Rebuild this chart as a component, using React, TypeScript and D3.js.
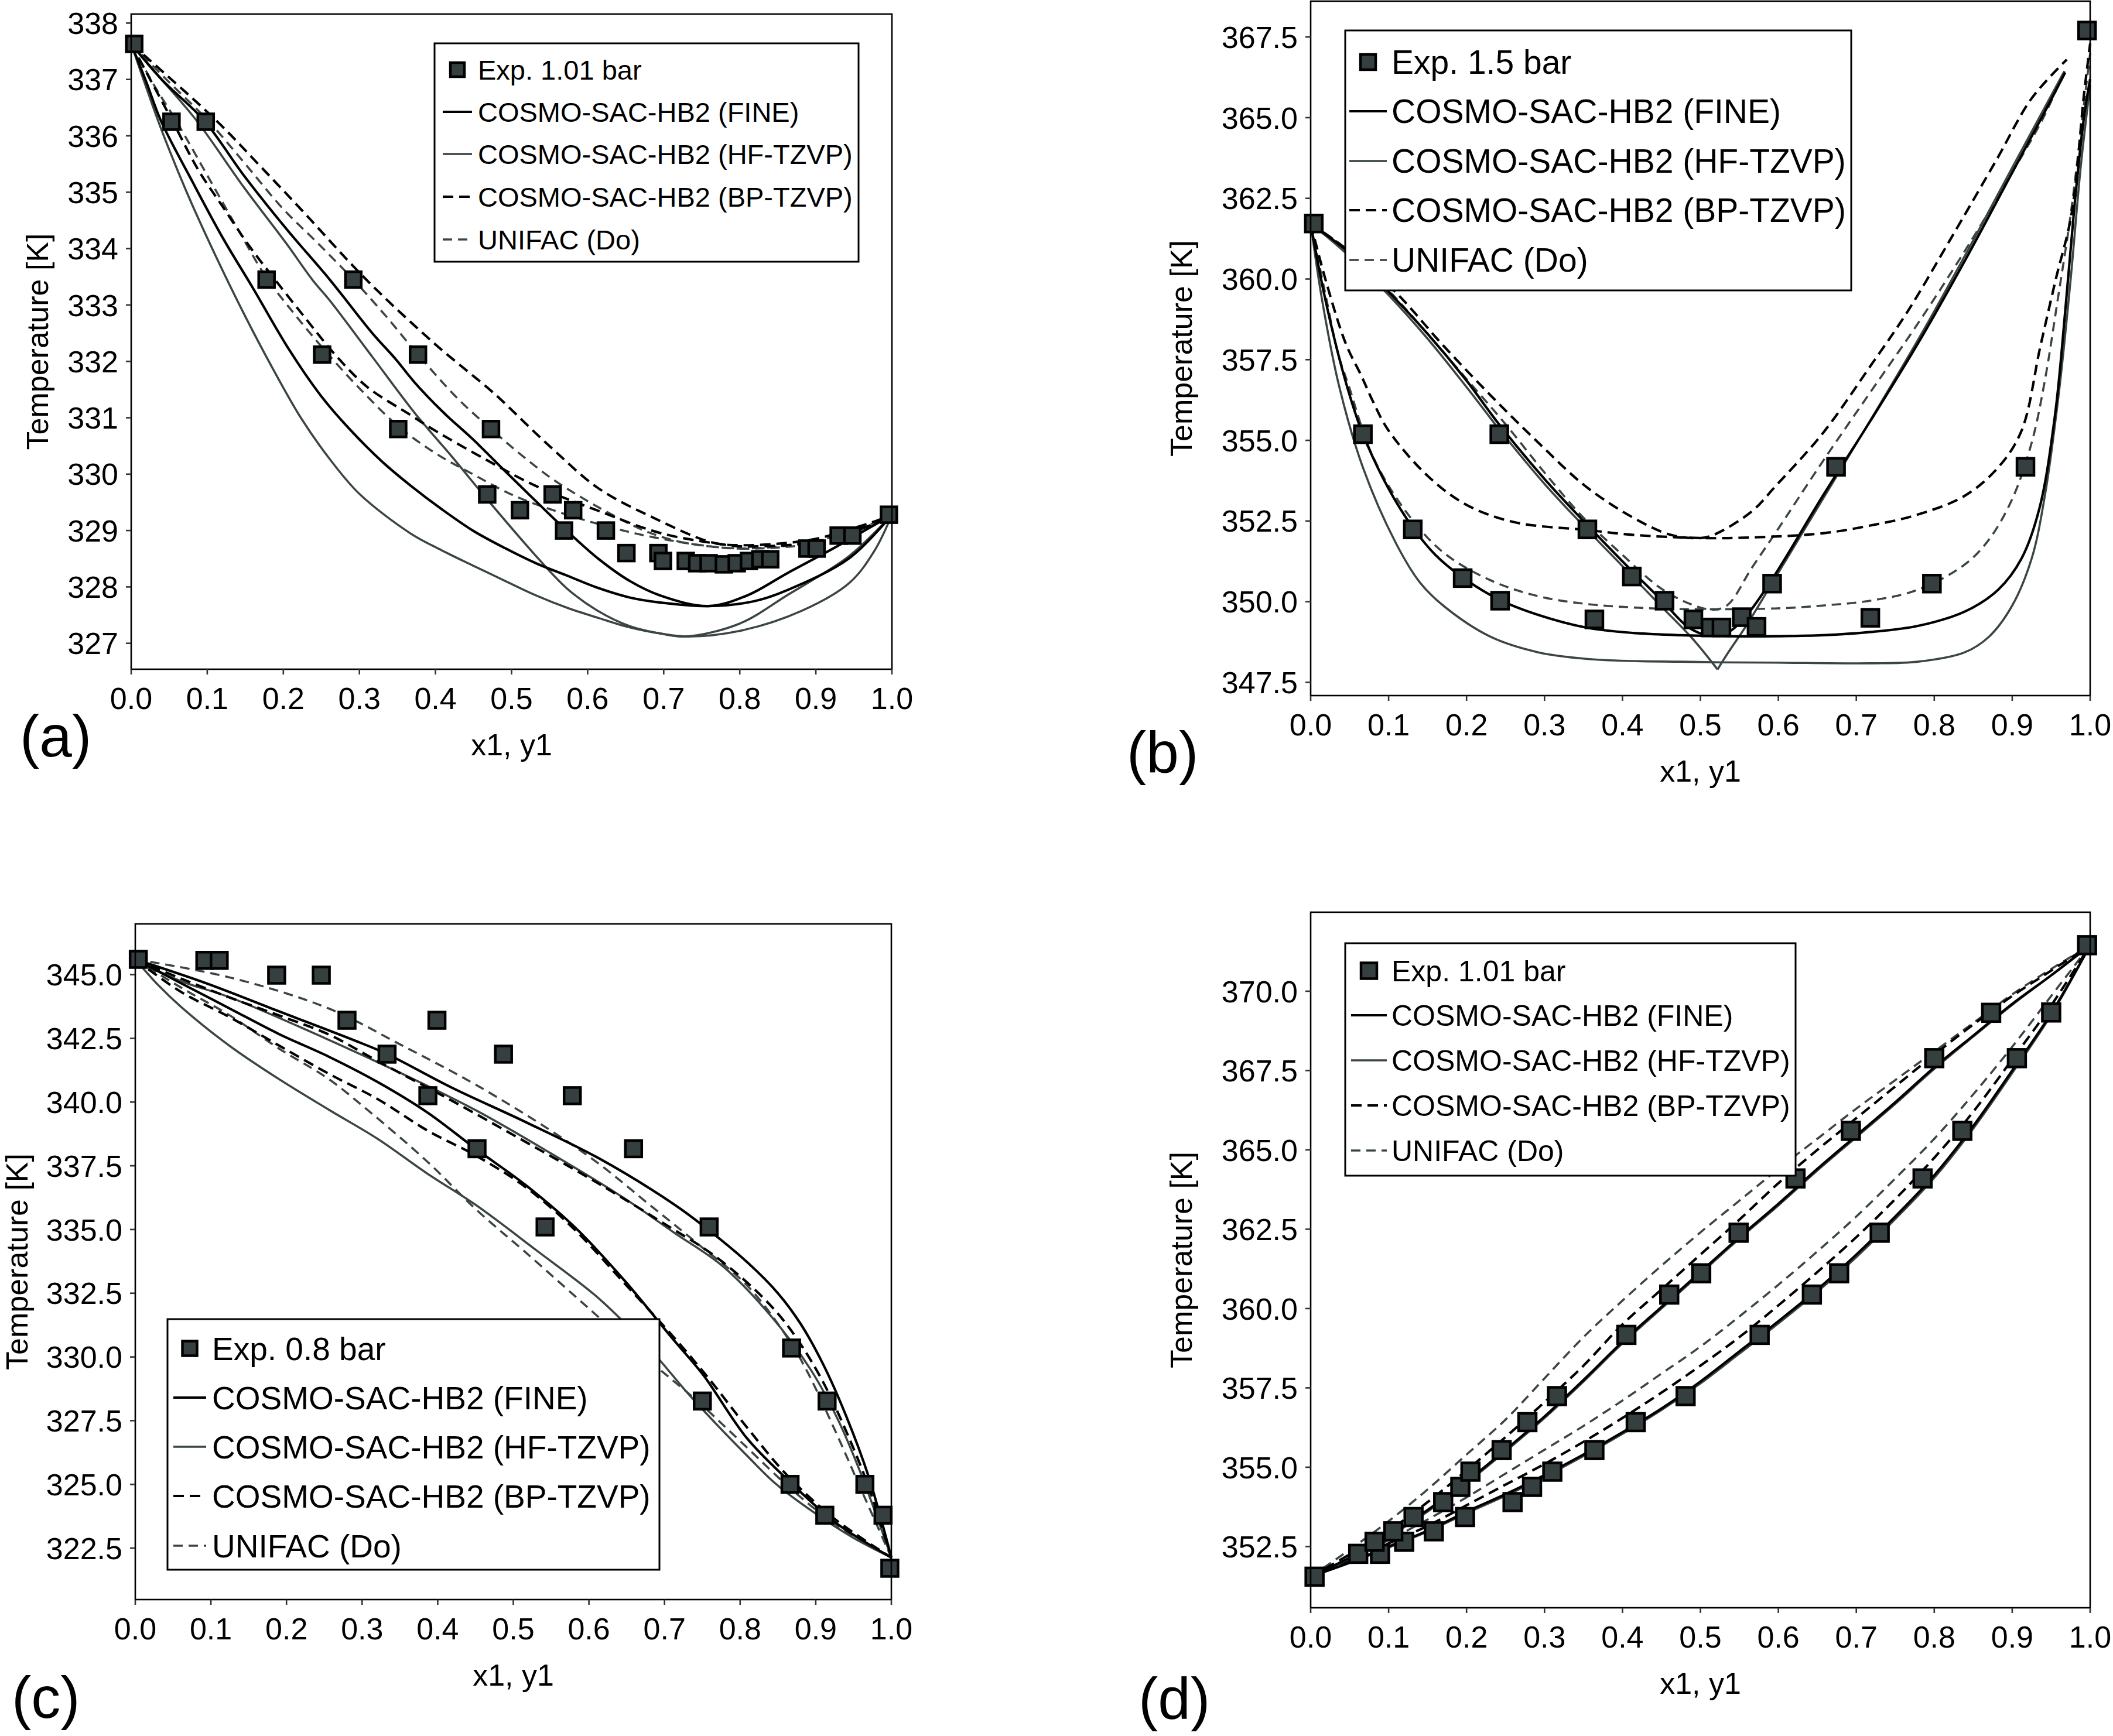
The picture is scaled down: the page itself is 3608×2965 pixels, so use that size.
import React from 'react';
import * as d3 from 'd3';

type Pt = [number, number];

// ---------------- shared axis values ----------------
const xTickValues = [0, 0.1, 0.2, 0.3, 0.4, 0.5, 0.6, 0.7, 0.8, 0.9, 1.0];
const aYTicks = [327, 328, 329, 330, 331, 332, 333, 334, 335, 336, 337, 338];
const bYTicks = [347.5, 350.0, 352.5, 355.0, 357.5, 360.0, 362.5, 365.0, 367.5];
const cYTicks = [322.5, 325.0, 327.5, 330.0, 332.5, 335.0, 337.5, 340.0, 342.5, 345.0];
const dYTicks = [352.5, 355.0, 357.5, 360.0, 362.5, 365.0, 367.5, 370.0];

const seriesNames = [
  'COSMO-SAC-HB2 (FINE)',
  'COSMO-SAC-HB2 (HF-TZVP)',
  'COSMO-SAC-HB2 (BP-TZVP)',
  'UNIFAC (Do)',
];

// ---------------- panel (a): 1.01 bar ----------------
const aExp: Pt[] = [
  [0.004, 337.63], [0.053, 336.25], [0.098, 336.25], [0.178, 333.45], [0.292, 333.45],
  [0.251, 332.12], [0.377, 332.12], [0.351, 330.8], [0.473, 330.8], [0.468, 329.64],
  [0.554, 329.64], [0.511, 329.36], [0.581, 329.36], [0.569, 329.0], [0.624, 329.0],
  [0.651, 328.6], [0.693, 328.6], [0.699, 328.46], [0.729, 328.46], [0.744, 328.42],
  [0.759, 328.42], [0.779, 328.4], [0.796, 328.42], [0.812, 328.46], [0.827, 328.49],
  [0.84, 328.49], [0.889, 328.68], [0.901, 328.68], [0.93, 328.91], [0.948, 328.91],
  [0.996, 329.28],
];
const aFineLiq: Pt[] = [
  [0, 337.63], [0.02, 336.95], [0.039, 336.27], [0.08, 335.2], [0.12, 334.2], [0.16, 333.3],
  [0.208, 332.2], [0.25, 331.38], [0.287, 330.8], [0.33, 330.22], [0.367, 329.8], [0.408, 329.38],
  [0.449, 329.0], [0.491, 328.69], [0.532, 328.42], [0.573, 328.2], [0.614, 327.98],
  [0.656, 327.81], [0.697, 327.72], [0.759, 327.66], [0.82, 327.75], [0.862, 327.94],
  [0.944, 328.51], [1, 329.28],
];
const aFineVap: Pt[] = [
  [0, 337.63], [0.04, 337.0], [0.096, 336.27], [0.148, 335.3], [0.204, 334.35], [0.261, 333.45],
  [0.317, 332.5], [0.347, 332.05], [0.373, 331.62], [0.41, 331.1], [0.449, 330.62],
  [0.491, 330.06], [0.532, 329.52], [0.573, 328.99], [0.614, 328.5], [0.656, 328.1],
  [0.697, 327.84], [0.759, 327.66], [0.81, 327.85], [0.862, 328.24], [0.924, 328.69], [1, 329.28],
];
const aHfLiq: Pt[] = [
  [0, 337.63], [0.02, 336.85], [0.04, 336.1], [0.073, 335.0], [0.11, 333.9], [0.148, 332.85],
  [0.185, 331.9], [0.223, 331.0], [0.262, 330.25], [0.3, 329.65], [0.367, 328.95],
  [0.408, 328.65], [0.449, 328.38], [0.491, 328.11], [0.532, 327.85], [0.573, 327.63],
  [0.614, 327.45], [0.656, 327.28], [0.697, 327.17], [0.73, 327.12], [0.8, 327.22],
  [0.882, 327.58], [0.944, 328.07], [0.977, 328.64], [1, 329.28],
];
const aHfVap: Pt[] = [
  [0, 337.63], [0.04, 337.0], [0.086, 336.27], [0.148, 335.09], [0.204, 334.09], [0.238, 333.45],
  [0.261, 333.08], [0.317, 332.08], [0.373, 331.08], [0.421, 330.32], [0.47, 329.52],
  [0.532, 328.55], [0.573, 327.97], [0.614, 327.57], [0.656, 327.3], [0.697, 327.17],
  [0.73, 327.12], [0.8, 327.35], [0.862, 327.85], [0.944, 328.55], [1, 329.28],
];
const aBpLiq: Pt[] = [
  [0, 337.63], [0.025, 337.0], [0.054, 336.27], [0.088, 335.4], [0.12, 334.75], [0.155, 334.05],
  [0.189, 333.45], [0.23, 332.75], [0.268, 332.12], [0.31, 331.55], [0.367, 331.05],
  [0.396, 330.8], [0.47, 330.23], [0.532, 329.79], [0.614, 329.35], [0.697, 328.95],
  [0.779, 328.75], [0.8, 328.72], [0.862, 328.74], [0.903, 328.81], [0.944, 328.97],
  [0.977, 329.12], [1, 329.28],
];
const aBpVap: Pt[] = [
  [0, 337.63], [0.022, 337.37], [0.112, 336.27], [0.167, 335.5], [0.223, 334.7], [0.309, 333.45],
  [0.4, 332.3], [0.478, 331.42], [0.526, 330.8], [0.553, 330.46], [0.614, 329.75],
  [0.689, 329.21], [0.763, 328.79], [0.8, 328.74], [0.862, 328.78], [0.903, 328.86],
  [0.944, 329.02], [0.977, 329.16], [1, 329.28],
];
const aUniLiq: Pt[] = [
  [0, 337.63], [0.03, 336.9], [0.059, 336.27], [0.1, 335.3], [0.14, 334.35], [0.177, 333.5],
  [0.214, 332.85], [0.251, 332.25], [0.298, 331.55], [0.351, 330.85], [0.4, 330.37],
  [0.449, 330.0], [0.503, 329.62], [0.573, 329.28], [0.656, 328.97], [0.738, 328.76],
  [0.8, 328.68], [0.862, 328.71], [0.903, 328.79], [0.944, 328.95], [0.977, 329.11], [1, 329.28],
];
const aUniVap: Pt[] = [
  [0, 337.63], [0.05, 336.95], [0.101, 336.27], [0.15, 335.5], [0.2, 334.7], [0.245, 334.1],
  [0.292, 333.45], [0.335, 332.8], [0.377, 332.12], [0.43, 331.33], [0.473, 330.8],
  [0.511, 330.36], [0.553, 329.92], [0.594, 329.57], [0.635, 329.26], [0.676, 328.99],
  [0.718, 328.81], [0.759, 328.72], [0.8, 328.68], [0.862, 328.73], [0.903, 328.82],
  [0.944, 328.98], [0.977, 329.14], [1, 329.28],
];

// ---------------- panel (b): 1.5 bar ----------------
const bExp: Pt[] = [
  [0.004, 361.72], [0.067, 355.19], [0.242, 355.19], [0.131, 352.24], [0.355, 352.24],
  [0.195, 350.73], [0.412, 350.78], [0.243, 350.03], [0.454, 350.03], [0.364, 349.45],
  [0.491, 349.45], [0.513, 349.2], [0.527, 349.2], [0.553, 349.52], [0.572, 349.22],
  [0.592, 350.56], [0.797, 350.56], [0.674, 354.18], [0.917, 354.18], [0.718, 349.5],
  [0.996, 367.7],
];
const bFineLiq: Pt[] = [
  [0, 361.72], [0.015, 359.8], [0.034, 357.8], [0.05, 356.4], [0.067, 355.19], [0.1, 353.5],
  [0.131, 352.3], [0.16, 351.45], [0.195, 350.75], [0.243, 350.05], [0.292, 349.59],
  [0.353, 349.2], [0.414, 349.03], [0.474, 348.96], [0.535, 348.93], [0.596, 348.93],
  [0.657, 348.96], [0.718, 349.06], [0.779, 349.25], [0.839, 349.69], [0.882, 350.37],
  [0.912, 351.34], [0.935, 352.9], [0.955, 355.8], [0.968, 359.0], [0.98, 362.3],
  [0.992, 365.0], [1, 366.2],
];
const bFineVap: Pt[] = [
  [0, 361.72], [0.05, 360.8], [0.1, 359.6], [0.15, 358.3], [0.2, 356.85], [0.24, 355.55],
  [0.3, 353.8], [0.35, 352.5], [0.4, 351.25], [0.45, 350.05], [0.485, 349.2], [0.51, 348.96],
  [0.535, 349.05], [0.56, 349.6], [0.596, 350.85], [0.657, 353.28], [0.718, 355.6],
  [0.779, 358.0], [0.84, 360.6], [0.9, 363.3], [0.94, 365.1], [0.968, 366.4],
];
const bHfLiq: Pt[] = [
  [0, 361.72], [0.015, 359.3], [0.0365, 356.68], [0.067, 354.16], [0.109, 351.83],
  [0.14, 350.6], [0.17, 349.88], [0.231, 348.91], [0.292, 348.43], [0.353, 348.23],
  [0.414, 348.16], [0.474, 348.14], [0.525, 348.12], [0.596, 348.11], [0.718, 348.09],
  [0.779, 348.14], [0.839, 348.43], [0.87, 348.91], [0.9, 349.88], [0.925, 351.34],
  [0.942, 353.3], [0.96, 356.5], [0.975, 360.0], [0.988, 363.5], [1, 366.0],
];
const bHfVapLeft: Pt[] = [
  [0, 361.72], [0.05, 360.7], [0.1, 359.5], [0.15, 358.15], [0.2, 356.65], [0.24, 355.4],
  [0.3, 353.65], [0.35, 352.35], [0.4, 351.1], [0.45, 349.85], [0.49, 348.85], [0.522, 347.9],
];
const bHfVapRight: Pt[] = [
  [0.522, 347.9], [0.535, 348.4], [0.56, 349.3], [0.6, 350.9], [0.66, 353.3], [0.72, 355.7],
  [0.78, 358.15], [0.84, 360.75], [0.9, 363.45], [0.966, 366.4],
];
const bBpLiq: Pt[] = [
  [0, 361.72], [0.02, 359.9], [0.045, 358.0], [0.065, 357.0], [0.08, 356.2], [0.1, 355.3],
  [0.15, 353.9], [0.2, 353.0], [0.262, 352.46], [0.355, 352.22], [0.414, 352.07],
  [0.505, 351.97], [0.566, 351.99], [0.657, 352.12], [0.718, 352.36], [0.779, 352.7],
  [0.839, 353.28], [0.882, 354.16], [0.912, 355.3], [0.936, 357.9], [0.956, 360.0],
  [0.976, 362.0], [0.992, 365.7], [1, 367.3],
];
const bBpVap: Pt[] = [
  [0, 361.72], [0.05, 360.85], [0.109, 359.59], [0.17, 357.94], [0.231, 356.39],
  [0.292, 354.93], [0.353, 353.57], [0.414, 352.6], [0.462, 352.07], [0.499, 351.97],
  [0.517, 352.07], [0.566, 352.8], [0.596, 353.57], [0.657, 355.22], [0.718, 357.3],
  [0.766, 359.0], [0.82, 361.2], [0.88, 363.7], [0.925, 365.6], [0.97, 366.8],
];
const bUniLiq: Pt[] = [
  [0, 361.72], [0.02, 359.4], [0.035, 357.7], [0.049, 356.68], [0.079, 354.54], [0.122, 352.8],
  [0.17, 351.53], [0.231, 350.66], [0.292, 350.17], [0.353, 349.93], [0.414, 349.82],
  [0.474, 349.77], [0.596, 349.79], [0.657, 349.88], [0.718, 350.03], [0.779, 350.37],
  [0.839, 351.15], [0.87, 351.92], [0.9, 353.18], [0.925, 354.93], [0.942, 356.87],
  [0.958, 359.3], [0.975, 362.0], [0.99, 365.0], [1, 367.0],
];
const bUniVap: Pt[] = [
  [0, 361.72], [0.05, 360.85], [0.1, 359.65], [0.15, 358.3], [0.2, 356.9], [0.25, 355.5],
  [0.3, 354.0], [0.35, 352.6], [0.4, 351.45], [0.45, 350.4], [0.49, 349.9], [0.517, 349.75],
  [0.535, 349.9], [0.566, 351.05], [0.596, 352.12], [0.657, 354.35], [0.718, 356.49],
  [0.779, 358.62], [0.84, 360.9], [0.9, 363.3], [0.94, 365.0], [0.968, 366.5],
];

// ---------------- panel (c): 0.8 bar ----------------
const cExp: Pt[] = [
  [0.004, 345.6], [0.092, 345.56], [0.111, 345.56], [0.187, 344.98], [0.246, 344.98],
  [0.28, 343.21], [0.399, 343.21], [0.333, 341.88], [0.487, 341.88], [0.387, 340.25],
  [0.578, 340.25], [0.452, 338.17], [0.659, 338.17], [0.542, 335.1], [0.759, 335.1],
  [0.75, 328.27], [0.868, 330.35], [0.915, 328.27], [0.866, 325.0], [0.965, 325.0],
  [0.912, 323.79], [0.989, 323.79], [0.998, 321.71],
];
const cFineVap: Pt[] = [
  [0, 345.6], [0.093, 344.67], [0.19, 343.56], [0.288, 342.44], [0.332, 341.9],
  [0.419, 340.56], [0.516, 339.22], [0.614, 337.78], [0.712, 336.0], [0.751, 335.15],
  [0.81, 333.7], [0.85, 332.5], [0.88, 331.3], [0.91, 329.7], [0.94, 327.7], [0.97, 325.3],
  [1, 322.13],
];
const cFineLiq: Pt[] = [
  [0, 345.6], [0.06, 344.67], [0.125, 343.67], [0.19, 342.67], [0.256, 341.78],
  [0.321, 340.78], [0.386, 339.6], [0.451, 338.15], [0.516, 336.75], [0.581, 335.1],
  [0.647, 333.0], [0.712, 330.67], [0.751, 329.3], [0.809, 326.81], [0.864, 325.15],
  [0.927, 323.48], [1, 322.13],
];
const cHfVap: Pt[] = [
  [0, 345.6], [0.06, 344.75], [0.125, 344.11], [0.256, 342.44], [0.353, 341.11],
  [0.451, 339.67], [0.549, 338.0], [0.647, 336.22], [0.712, 334.89], [0.777, 333.56],
  [0.842, 331.56], [0.894, 329.47], [0.93, 327.5], [0.96, 325.4], [1, 322.13],
];
const cHfLiq: Pt[] = [
  [0, 345.6], [0.03, 344.6], [0.06, 343.75], [0.125, 342.2], [0.19, 340.9], [0.256, 339.7],
  [0.321, 338.55], [0.386, 337.2], [0.451, 335.95], [0.532, 334.15], [0.611, 332.35],
  [0.66, 330.95], [0.69, 330.0], [0.73, 328.6], [0.769, 327.35], [0.81, 326.1],
  [0.848, 325.0], [0.9, 323.85], [0.95, 322.9], [1, 322.13],
];
const cBpVap: Pt[] = [
  [0, 345.6], [0.06, 344.85], [0.125, 344.1], [0.19, 343.4], [0.256, 342.65], [0.321, 341.6],
  [0.419, 340.05], [0.516, 338.44], [0.614, 336.78], [0.712, 335.0], [0.76, 334.1],
  [0.81, 332.9], [0.85, 331.7], [0.88, 330.5], [0.91, 329.0], [0.94, 327.1], [0.97, 324.9],
  [1, 322.13],
];
const cBpLiq: Pt[] = [
  [0, 345.6], [0.06, 344.33], [0.125, 343.33], [0.19, 342.22], [0.256, 341.11],
  [0.321, 340.11], [0.386, 338.89], [0.451, 337.89], [0.516, 336.67], [0.581, 335.0],
  [0.647, 332.89], [0.712, 330.78], [0.76, 329.1], [0.81, 327.2], [0.864, 325.3],
  [0.927, 323.6], [1, 322.13],
];
const cUniVap: Pt[] = [
  [0, 345.6], [0.125, 344.89], [0.256, 343.67], [0.353, 342.22], [0.451, 340.67],
  [0.549, 338.89], [0.614, 337.56], [0.679, 336.0], [0.744, 334.44], [0.81, 332.78],
  [0.862, 330.78], [0.888, 329.47], [0.927, 327.02], [0.96, 324.8], [1, 322.13],
];
const cUniLiq: Pt[] = [
  [0, 345.6], [0.06, 344.5], [0.125, 343.4], [0.19, 342.1], [0.256, 340.9], [0.308, 339.67],
  [0.386, 337.67], [0.451, 335.78], [0.516, 334.11], [0.581, 332.4], [0.621, 331.35],
  [0.69, 329.6], [0.746, 328.2], [0.8, 326.7], [0.872, 324.7], [0.93, 323.35], [1, 322.13],
];

// ---------------- panel (d): 1.01 bar ----------------
const dExp: Pt[] = [
  [0.005, 351.55], [0.061, 352.27], [0.089, 352.27], [0.082, 352.65], [0.12, 352.65],
  [0.106, 352.98], [0.158, 352.98], [0.132, 353.43], [0.198, 353.43], [0.17, 353.9],
  [0.259, 353.9], [0.192, 354.38], [0.284, 354.38], [0.205, 354.86], [0.31, 354.86],
  [0.245, 355.54], [0.364, 355.54], [0.278, 356.42], [0.417, 356.42], [0.316, 357.24],
  [0.481, 357.24], [0.405, 359.17], [0.576, 359.17], [0.46, 360.44], [0.643, 360.44],
  [0.501, 361.11], [0.678, 361.11], [0.549, 362.39], [0.73, 362.39], [0.622, 364.1],
  [0.785, 364.1], [0.693, 365.6], [0.836, 365.6], [0.8, 367.89], [0.906, 367.89],
  [0.873, 369.32], [0.95, 369.33], [0.996, 371.45],
];
const dFineVap: Pt[] = [
  [0, 351.55], [0.05, 352.15], [0.1, 352.85], [0.15, 353.65], [0.2, 354.55], [0.25, 355.55],
  [0.3, 356.6], [0.35, 357.75], [0.4, 358.95], [0.45, 360.05], [0.5, 361.15], [0.55, 362.25],
  [0.6, 363.3], [0.65, 364.4], [0.7, 365.45], [0.75, 366.5], [0.8, 367.6], [0.85, 368.6],
  [0.9, 369.6], [0.95, 370.5], [1, 371.45],
];
const dHfVap: Pt[] = [
  [0, 351.55], [0.05, 352.12], [0.1, 352.8], [0.15, 353.6], [0.2, 354.5], [0.25, 355.5],
  [0.3, 356.55], [0.35, 357.7], [0.4, 358.9], [0.45, 360.0], [0.5, 361.1], [0.55, 362.2],
  [0.6, 363.25], [0.65, 364.35], [0.7, 365.4], [0.75, 366.45], [0.8, 367.55], [0.85, 368.57],
  [0.9, 369.57], [0.95, 370.5], [1, 371.45],
];
const dBpVap: Pt[] = [
  [0, 351.55], [0.05, 352.25], [0.1, 353.0], [0.15, 353.9], [0.2, 354.9], [0.25, 355.95],
  [0.3, 357.05], [0.35, 358.2], [0.4, 359.5], [0.45, 360.6], [0.5, 361.7], [0.55, 362.8],
  [0.6, 363.95], [0.65, 365.0], [0.7, 366.0], [0.75, 367.0], [0.8, 368.0], [0.85, 368.95],
  [0.9, 369.85], [0.95, 370.65], [1, 371.45],
];
const dUniVap: Pt[] = [
  [0, 351.55], [0.05, 352.4], [0.1, 353.3], [0.15, 354.3], [0.2, 355.4], [0.25, 356.5],
  [0.3, 357.8], [0.35, 359.1], [0.4, 360.25], [0.45, 361.35], [0.5, 362.4], [0.55, 363.4],
  [0.6, 364.4], [0.65, 365.35], [0.7, 366.3], [0.75, 367.2], [0.8, 368.1], [0.85, 369.0],
  [0.9, 369.9], [0.95, 370.7], [1, 371.45],
];
const dFineLiq: Pt[] = [
  [0, 351.55], [0.05, 352.0], [0.1, 352.5], [0.15, 353.0], [0.2, 353.6], [0.25, 354.15],
  [0.3, 354.75], [0.35, 355.4], [0.4, 356.1], [0.45, 356.85], [0.5, 357.7], [0.55, 358.65],
  [0.6, 359.6], [0.65, 360.6], [0.7, 361.7], [0.75, 362.9], [0.8, 364.2], [0.85, 365.75],
  [0.9, 367.5], [0.95, 369.3], [1, 371.45],
];
const dHfLiq: Pt[] = [
  [0, 351.55], [0.05, 351.98], [0.1, 352.47], [0.15, 352.97], [0.2, 353.55], [0.25, 354.1],
  [0.3, 354.7], [0.35, 355.35], [0.4, 356.05], [0.45, 356.8], [0.5, 357.64], [0.55, 358.58],
  [0.6, 359.53], [0.65, 360.53], [0.7, 361.62], [0.75, 362.82], [0.8, 364.12], [0.85, 365.67],
  [0.9, 367.42], [0.95, 369.25], [1, 371.45],
];
const dBpLiq: Pt[] = [
  [0, 351.55], [0.05, 352.05], [0.1, 352.6], [0.15, 353.15], [0.2, 353.8], [0.25, 354.45],
  [0.3, 355.1], [0.35, 355.8], [0.4, 356.55], [0.45, 357.35], [0.5, 358.2], [0.55, 359.1],
  [0.6, 360.1], [0.65, 361.15], [0.7, 362.25], [0.75, 363.45], [0.8, 364.75], [0.85, 366.2],
  [0.9, 367.85], [0.95, 369.55], [1, 371.45],
];
const dUniLiq: Pt[] = [
  [0, 351.55], [0.05, 352.1], [0.1, 352.7], [0.15, 353.35], [0.2, 354.05], [0.25, 354.8],
  [0.3, 355.55], [0.35, 356.3], [0.4, 357.1], [0.45, 357.95], [0.5, 358.8], [0.55, 359.75],
  [0.6, 360.75], [0.65, 361.8], [0.7, 362.9], [0.75, 364.1], [0.8, 365.35], [0.85, 366.75],
  [0.9, 368.25], [0.95, 369.85], [1, 371.45],
];

// ---------------- styles ----------------
const FONT = "'Liberation Sans', Arial, Helvetica, sans-serif";
const GREY = '#3b4545';
const MARK_FILL = '#363f3f';

interface LineStyle { stroke: string; width: number; dash?: string }
const fineStyle: LineStyle = { stroke: '#000', width: 4.2 };
const hfStyle: LineStyle = { stroke: GREY, width: 3.6 };
const bpStyle: LineStyle = { stroke: '#000', width: 4.2, dash: '18 10' };
const uniStyle: LineStyle = { stroke: GREY, width: 3.6, dash: '16 10' };
const legendStyles = [fineStyle, hfStyle, bpStyle, uniStyle];

interface Curve { data: Pt[]; style: LineStyle }
interface PanelCfg {
  tag: string;
  left: number; right: number; top: number; bottom: number;
  yDomain: [number, number];
  yTicks: number[];
  yFmt: (n: number) => string;
  yTitleX: number;
  tagX: number; tagY: number;
  exp: Pt[];
  expLabel: string;
  markSize: number;
  curves: Curve[];
  legend: { x0: number; y0: number; x1: number; y1: number; rowY: number[]; textX: number; lineX0: number; lineX1: number; font: number };
}

const fmtInt = d3.format('d');
const fmt1 = d3.format('.1f');

const panels: PanelCfg[] = [
  {
    tag: '(a)', left: 224, right: 1523, top: 24, bottom: 1143,
    yDomain: [326.54, 338.16], yTicks: aYTicks, yFmt: fmtInt, yTitleX: 82,
    tagX: 34, tagY: 1292, exp: aExp, expLabel: 'Exp. 1.01 bar', markSize: 27,
    curves: [
      { data: aHfLiq, style: hfStyle }, { data: aHfVap, style: hfStyle },
      { data: aUniLiq, style: uniStyle }, { data: aUniVap, style: uniStyle },
      { data: aBpLiq, style: bpStyle }, { data: aBpVap, style: bpStyle },
      { data: aFineLiq, style: fineStyle }, { data: aFineVap, style: fineStyle },
    ],
    legend: { x0: 742, y0: 74, x1: 1466, y1: 447, rowY: [119, 191, 263, 336, 409], textX: 816, lineX0: 756, lineX1: 806, font: 47 },
  },
  {
    tag: '(b)', left: 2238, right: 3569, top: 2, bottom: 1188,
    yDomain: [347.09, 368.61], yTicks: bYTicks, yFmt: fmt1, yTitleX: 2035,
    tagX: 1924, tagY: 1320, exp: bExp, expLabel: 'Exp. 1.5 bar', markSize: 29,
    curves: [
      { data: bHfLiq, style: hfStyle }, { data: bHfVapLeft, style: hfStyle }, { data: bHfVapRight, style: hfStyle },
      { data: bUniLiq, style: uniStyle }, { data: bUniVap, style: uniStyle },
      { data: bBpLiq, style: bpStyle }, { data: bBpVap, style: bpStyle },
      { data: bFineLiq, style: fineStyle }, { data: bFineVap, style: fineStyle },
    ],
    legend: { x0: 2297, y0: 52, x1: 3161, y1: 496, rowY: [106, 190, 275, 359, 444], textX: 2376, lineX0: 2304, lineX1: 2368, font: 57 },
  },
  {
    tag: '(c)', left: 231, right: 1522, top: 1578, bottom: 2732,
    yDomain: [320.48, 346.99], yTicks: cYTicks, yFmt: fmt1, yTitleX: 47,
    tagX: 20, tagY: 2934, exp: cExp, expLabel: 'Exp. 0.8 bar', markSize: 28,
    curves: [
      { data: cHfLiq, style: hfStyle }, { data: cHfVap, style: hfStyle },
      { data: cUniLiq, style: uniStyle }, { data: cUniVap, style: uniStyle },
      { data: cBpLiq, style: bpStyle }, { data: cBpVap, style: bpStyle },
      { data: cFineLiq, style: fineStyle }, { data: cFineVap, style: fineStyle },
    ],
    legend: { x0: 286, y0: 2253, x1: 1126, y1: 2681, rowY: [2303, 2387, 2471, 2555, 2640], textX: 362, lineX0: 296, lineX1: 352, font: 55 },
  },
  {
    tag: '(d)', left: 2238, right: 3569, top: 1558, bottom: 2746,
    yDomain: [350.57, 372.49], yTicks: dYTicks, yFmt: fmt1, yTitleX: 2035,
    tagX: 1944, tagY: 2936, exp: dExp, expLabel: 'Exp. 1.01 bar', markSize: 30,
    curves: [
      { data: dUniVap, style: uniStyle }, { data: dUniLiq, style: uniStyle },
      { data: dBpVap, style: bpStyle }, { data: dBpLiq, style: bpStyle },
      { data: dHfVap, style: hfStyle }, { data: dHfLiq, style: hfStyle },
      { data: dFineVap, style: fineStyle }, { data: dFineLiq, style: fineStyle },
    ],
    legend: { x0: 2297, y0: 1611, x1: 3066, y1: 2008, rowY: [1658, 1734, 1811, 1888, 1965], textX: 2376, lineX0: 2307, lineX1: 2368, font: 50 },
  },
];

const TICK_FONT = 52;

function Marker({ cx, cy, size }: { cx: number; cy: number; size: number }) {
  return (
    <rect x={cx - size / 2} y={cy - size / 2} width={size} height={size}
      fill={MARK_FILL} stroke="#000" strokeWidth={4.5} />
  );
}

function Panel({ p }: { p: PanelCfg }) {
  const x = d3.scaleLinear().domain([0, 1]).range([p.left, p.right]);
  const y = d3.scaleLinear().domain(p.yDomain).range([p.bottom, p.top]);
  const line = d3.line<Pt>()
    .x((d) => x(d[0]))
    .y((d) => y(d[1]))
    .curve(d3.curveCatmullRom.alpha(0.5));
  const midY = (p.top + p.bottom) / 2;
  const midX = (p.left + p.right) / 2;
  const lg = p.legend;

  return (
    <g>
      {/* model curves */}
      {p.curves.map((c, i) => (
        <path key={i} d={line(c.data) || ''} fill="none" stroke={c.style.stroke}
          strokeWidth={c.style.width} strokeDasharray={c.style.dash} strokeLinejoin="round" />
      ))}
      {/* experimental points */}
      {p.exp.map((d, i) => (
        <Marker key={i} cx={x(d[0])} cy={y(d[1])} size={p.markSize} />
      ))}
      {/* frame */}
      <rect x={p.left} y={p.top} width={p.right - p.left} height={p.bottom - p.top}
        fill="none" stroke="#000" strokeWidth={2.6} />
      {/* y axis */}
      {p.yTicks.map((t) => (
        <g key={t}>
          <line x1={p.left - 9} x2={p.left} y1={y(t)} y2={y(t)} stroke="#333" strokeWidth={2.6} />
          <text x={p.left - 22} y={y(t) + TICK_FONT * 0.358} textAnchor="end"
            fontSize={TICK_FONT} fontFamily={FONT} fill="#000">{p.yFmt(t)}</text>
        </g>
      ))}
      {/* x axis */}
      {xTickValues.map((t) => (
        <g key={t}>
          <line x1={x(t)} x2={x(t)} y1={p.bottom} y2={p.bottom + 9} stroke="#333" strokeWidth={2.6} />
          <text x={x(t)} y={p.bottom + 68} textAnchor="middle"
            fontSize={TICK_FONT} fontFamily={FONT} fill="#000">{fmt1(t)}</text>
        </g>
      ))}
      {/* axis titles */}
      <text x={midX} y={p.bottom + 147} textAnchor="middle" fontSize={TICK_FONT}
        fontFamily={FONT} fill="#000">x1, y1</text>
      <text transform={`translate(${p.yTitleX},${midY}) rotate(-90)`} textAnchor="middle"
        fontSize={TICK_FONT} fontFamily={FONT} fill="#000">Temperature [K]</text>
      {/* panel tag */}
      <text x={p.tagX} y={p.tagY} fontSize={100} fontFamily={FONT} fill="#000">{p.tag}</text>
      {/* legend */}
      <rect x={lg.x0} y={lg.y0} width={lg.x1 - lg.x0} height={lg.y1 - lg.y0}
        fill="#fff" stroke="#000" strokeWidth={3} />
      <Marker cx={(lg.lineX0 + lg.lineX1) / 2} cy={lg.rowY[0]} size={p.markSize - 3} />
      <text x={lg.textX} y={lg.rowY[0] + lg.font * 0.358} fontSize={lg.font}
        fontFamily={FONT} fill="#000">{p.expLabel}</text>
      {seriesNames.map((name, i) => {
        const st = legendStyles[i];
        const ry = lg.rowY[i + 1];
        return (
          <g key={name}>
            <line x1={lg.lineX0} x2={lg.lineX1} y1={ry} y2={ry} stroke={st.stroke}
              strokeWidth={st.width} strokeDasharray={st.dash} />
            <text x={lg.textX} y={ry + lg.font * 0.358} fontSize={lg.font}
              fontFamily={FONT} fill="#000">{name}</text>
          </g>
        );
      })}
    </g>
  );
}

export default function App() {
  return (
    <svg width={3608} height={2965} viewBox="0 0 3608 2965"
      style={{ position: 'absolute', left: 0, top: 0, background: '#fff' }}>
      <rect x={0} y={0} width={3608} height={2965} fill="#fff" />
      {panels.map((p) => <Panel key={p.tag} p={p} />)}
    </svg>
  );
}
